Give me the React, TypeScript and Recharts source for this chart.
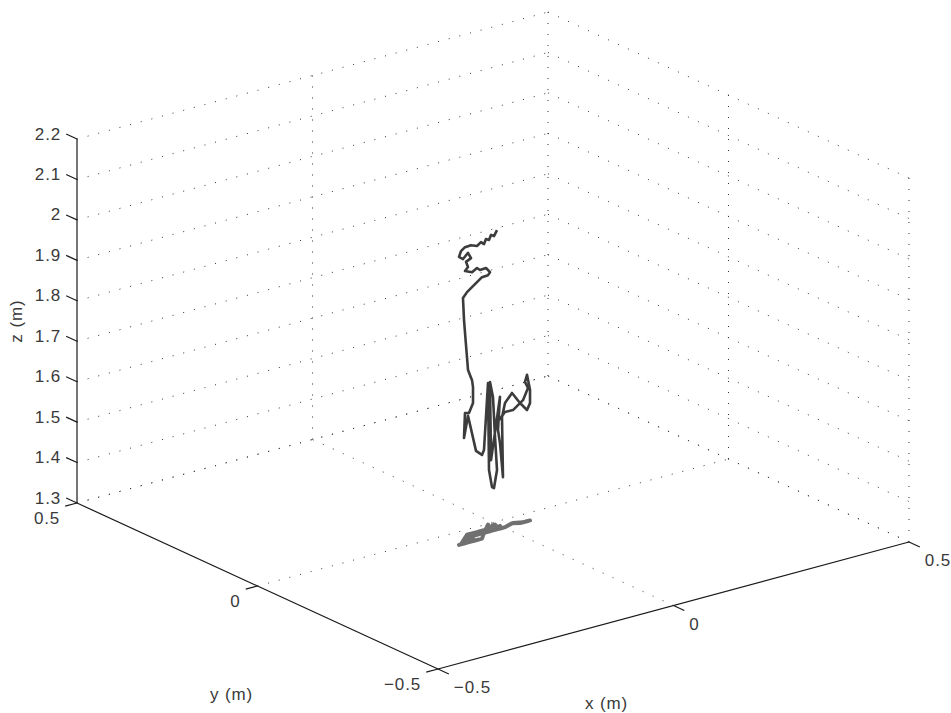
import { ComposedChart, Line, Scatter, XAxis, YAxis } from "recharts";

// axis ticks (m)
const xTicks = [-0.5, 0, 0.5];
const yTicks = [-0.5, 0, 0.5];
const zTicks = [1.3, 1.4, 1.5, 1.6, 1.7, 1.8, 1.9, 2.0, 2.1, 2.2];

// measured head trajectory (m)
const trackX = [
  -0.0145, -0.0209, -0.0272, -0.0315, -0.0379, -0.0421, -0.0485, -0.057, -0.0697, -0.0824,
  -0.1063, -0.1105, -0.102, -0.0914, -0.085, -0.0956, -0.0914, -0.0978,
  -0.0599, -0.0493, -0.0429, -0.0302, -0.0217, -0.0259, -0.0387, -0.0493, -0.0599, -0.0705,
  -0.0944, -0.0922, -0.088, -0.0837, -0.0752, -0.0731, -0.0731, -0.0816,
  -0.0978, -0.0999, -0.0914, -0.0744, -0.0617,
  -0.0421, -0.0129, -0.0315, -0.0251, -0.0209, -0.0068, -0.0034, -0.0077, -0.0179, -0.0272, -0.0005,
  -0.0124, -0.0081, -0.0018,
  -0.0039, 0.0025, 0.0235, 0.0343, 0.0492, 0.0556, 0.0556, 0.0492, 0.0449, 0.0513, 0.0407, 0.0256, 0.0025, -0.0103,
];
const trackY = [
  -0.03, -0.03, -0.03, -0.03, -0.03, -0.03, -0.03, -0.03, -0.03, -0.03,
  -0.05, -0.05, -0.05, -0.05, -0.05, -0.05, -0.05, -0.05,
  -0.02, -0.02, -0.02, -0.02, -0.02, -0.02, -0.02, -0.02, -0.02, -0.02,
  -0.04, -0.04, -0.04, -0.04, -0.04, -0.04, -0.04, -0.04,
  -0.05, -0.05, -0.05, -0.05, -0.05,
  -0.03, -0.003, -0.03, -0.03, -0.03, -0.02, -0.01, -0.01, -0.015, -0.03, -0.02,
  -0.03, -0.03, -0.03,
  -0.03, -0.03, -0.022, -0.03, -0.03, -0.03, -0.03, -0.03, -0.03, -0.03, -0.03, -0.022, -0.03, -0.03,
];
const trackZ = [
  2.04, 2.027, 2.032, 2.021, 2.025, 2.014, 2.021, 2.014, 2.02, 2.019,
  2.025, 2.012, 2.004, 2.016, 2.001, 1.995, 1.981, 1.973,
  1.946, 1.953, 1.946, 1.947, 1.934, 1.928, 1.927, 1.918, 1.909, 1.9,
  1.901, 1.846, 1.783, 1.72, 1.692, 1.674, 1.635, 1.613,
  1.622, 1.561, 1.613, 1.521, 1.507,
  1.505, 1.65, 1.452, 1.408, 1.404, 1.44, 1.517, 1.617, 1.659, 1.475, 1.619,
  1.545, 1.511, 1.425,
  1.574, 1.607, 1.622, 1.597, 1.575, 1.59, 1.623, 1.662, 1.646, 1.629, 1.602, 1.579, 1.585, 1.569,
];

const X0 = -0.5;
const X1 = 0.5;
const Y0 = -0.5;
const Y1 = 0.5;
const Z0 = 1.3;
const Z1 = 2.2;

// orthographic view: screen px per metre along each axis
const project = (x: number, y: number, z: number) => ({
  px: (x - X0) * 471 - (y - Y0) * 361,
  py: (x - X0) * 127 + (y - Y0) * 166 + (z - Z0) * 404.4,
});

const seg = (a: number[], b: number[]) => [project(a[0], a[1], a[2]), project(b[0], b[1], b[2])];

const gridSegs: ReturnType<typeof seg>[] = [];
zTicks.forEach((z) => {
  gridSegs.push(seg([X0, Y1, z], [X1, Y1, z]));
  gridSegs.push(seg([X1, Y1, z], [X1, Y0, z]));
});
xTicks.slice(1).forEach((x) => {
  gridSegs.push(seg([x, Y1, Z0], [x, Y1, Z1]));
  gridSegs.push(seg([x, Y0, Z0], [x, Y1, Z0]));
});
yTicks.slice(0, 2).forEach((y) => gridSegs.push(seg([X1, y, Z0], [X1, y, Z1])));
yTicks.slice(1).forEach((y) => gridSegs.push(seg([X0, y, Z0], [X1, y, Z0])));

const axisSegs = [
  seg([X0, Y1, Z0], [X0, Y1, Z1]),
  seg([X0, Y1, Z0], [X0, Y0, Z0]),
  seg([X0, Y0, Z0], [X1, Y0, Z0]),
  ...zTicks.map((z) => seg([X0, Y1, z], [X0, Y1 + 0.03, z])),
  ...yTicks.map((y) => seg([X0, y, Z0], [X0 - 0.025, y, Z0])),
  ...xTicks.map((x) => seg([x, Y0, Z0], [x, Y0 - 0.03, Z0])),
];

const fmt = (v: number) => (v < 0 ? "\u2212" + String(-v) : String(v));

const labels = [
  ...zTicks.map((z) => ({ ...project(X0, Y1 + 0.03, z), text: fmt(z), anchor: "end", dx: -5, dy: 0, rot: 0 })),
  ...yTicks.map((y) => ({ ...project(X0 - 0.025, y, Z0), text: fmt(y), anchor: "end", dx: -5, dy: 12, rot: 0 })),
  ...xTicks.map((x) => ({ ...project(x, Y0 - 0.03, Z0), text: fmt(x), anchor: "start", dx: 5, dy: 14, rot: 0 })),
  { ...project(X0, Y1, (Z0 + Z1) / 2), text: "z (m)", anchor: "middle", dx: -60, dy: 0, rot: -90 },
  { ...project(X0, 0, Z0), text: "y (m)", anchor: "middle", dx: -26, dy: 108, rot: 0 },
  { ...project(0, Y0, Z0), text: "x (m)", anchor: "middle", dx: -67, dy: 98, rot: 0 },
];

const track = trackX.map((x, i) => project(x, trackY[i], trackZ[i]));
const shadow = trackX.map((x, i) => project(x, trackY[i], Z0));

const LabelShape = (props: any) => {
  const { cx, cy, payload } = props;
  const x = cx + payload.dx;
  const y = cy + payload.dy;
  return (
    <text
      x={x}
      y={y}
      textAnchor={payload.anchor}
      dominantBaseline="central"
      transform={payload.rot ? `rotate(${payload.rot} ${x} ${y})` : undefined}
      fontFamily="'Liberation Sans', Arial, sans-serif"
      fontSize={17}
      letterSpacing={0.9}
      fill="#3a3a3a"
    >
      {payload.text}
    </text>
  );
};

export default function App() {
  return (
    <div style={{ position: "absolute", left: 0, top: 0, width: 951, height: 713, background: "#fff" }}>
      <ComposedChart width={951} height={713} margin={{ top: 0, right: 0, bottom: 0, left: 0 }}>
        <XAxis type="number" dataKey="px" domain={[-438, 513]} allowDataOverflow hide />
        <YAxis type="number" dataKey="py" domain={[-44, 669]} allowDataOverflow hide />
        {gridSegs.map((s, i) => (
          <Line
            key={"g" + i}
            data={s}
            dataKey="py"
            type="linear"
            stroke="#333"
            strokeWidth={1}
            strokeDasharray="1 10"
            dot={false}
            activeDot={false}
            isAnimationActive={false}
          />
        ))}
        {axisSegs.map((s, i) => (
          <Line
            key={"a" + i}
            data={s}
            dataKey="py"
            type="linear"
            stroke="#1a1a1a"
            strokeWidth={1.2}
            dot={false}
            activeDot={false}
            isAnimationActive={false}
          />
        ))}
        <Line
          data={shadow}
          dataKey="py"
          type="linear"
          stroke="#707070"
          strokeWidth={4}
          strokeLinejoin="round"
          dot={false}
          activeDot={false}
          isAnimationActive={false}
        />
        <Line
          data={track}
          dataKey="py"
          type="linear"
          stroke="#3c3c3c"
          strokeWidth={2.6}
          strokeLinejoin="round"
          dot={false}
          activeDot={false}
          isAnimationActive={false}
        />
        <Scatter data={labels} dataKey="py" shape={LabelShape} isAnimationActive={false} />
      </ComposedChart>
    </div>
  );
}
